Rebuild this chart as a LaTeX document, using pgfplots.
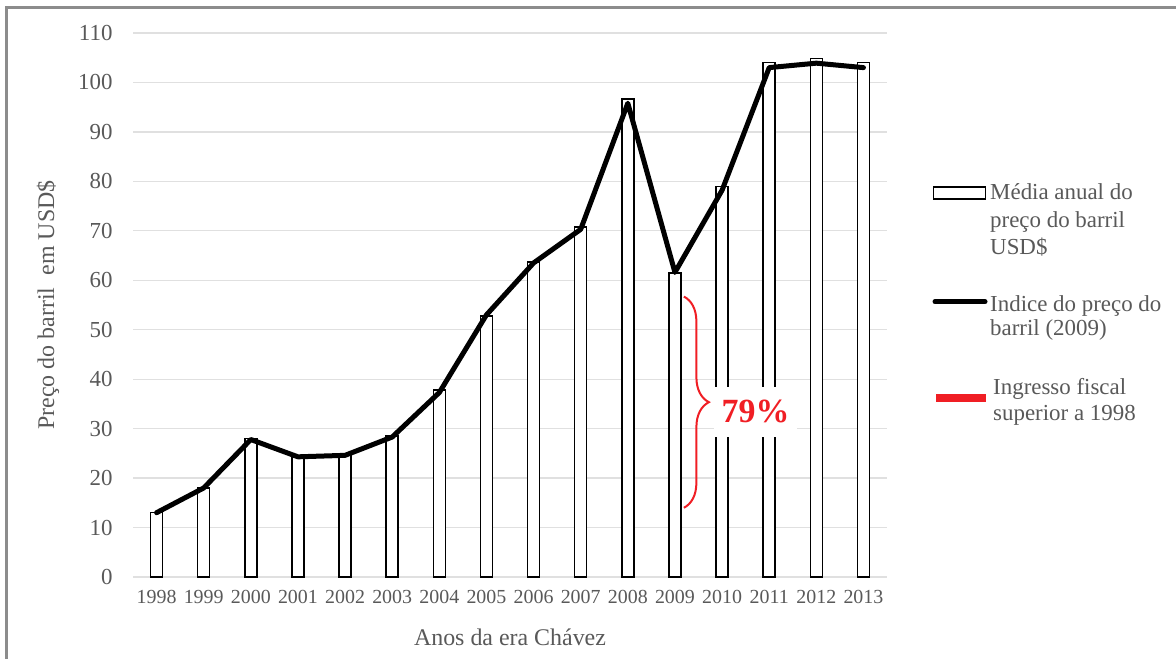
\documentclass[border=0pt]{standalone}
\usepackage{fontspec}
\setmainfont{Liberation Serif}
\usepackage{pgfplots}
\pgfplotsset{compat=1.18}
\usetikzlibrary{decorations.pathreplacing}
\definecolor{txtgray}{RGB}{89,89,89}
\definecolor{gridgray}{RGB}{224,224,224}
\definecolor{bordergray}{RGB}{140,140,140}
\definecolor{bracered}{RGB}{240,30,36}

\begin{document}
\begin{tikzpicture}
\useasboundingbox (0bp,0bp) rectangle (1176bp,659bp);
\fill[white] (0bp,0bp) rectangle (1176bp,659bp);
\draw[bordergray, line width=2.5bp] (6.5bp,0bp) -- (6.5bp,651.5bp) -- (1176bp,651.5bp);
\begin{axis}[
  at={(133bp,82bp)}, anchor=south west, scale only axis,
  width=754bp, height=544bp,
  xmin=-0.5, xmax=15.5, ymin=0, ymax=110,
  axis line style={draw=none},
  xtick={0,...,15},
  xticklabels={1998,1999,2000,2001,2002,2003,2004,2005,2006,2007,2008,2009,2010,2011,2012,2013},
  ytick={0,10,...,110},
  ymajorgrids, grid style={gridgray, line width=1.2bp},
  major tick length=0pt,
  /pgf/number format/assume math mode=true,
  ticklabel style={text=txtgray},
  yticklabel style={font=\fontsize{23}{27}\selectfont, xshift=-17bp},
  xticklabel style={font=\fontsize{20}{24}\selectfont, yshift=-10bp},
  xlabel={Anos da era Chávez},
  ylabel={Preço do barril\ \ em USD\$},
  label style={font=\fontsize{24}{28}\selectfont, text=txtgray},
  xlabel style={at={(axis description cs:0.5,-0.1103)}, anchor=center},
  ylabel style={at={(axis description cs:-0.1127,0.5)}, anchor=center},
  clip=false,
]
\addplot[ybar, bar width=12bp, draw=black, fill=white, line width=1.5bp] coordinates {
 (0,13.0) (1,18.0) (2,28.0) (3,24.4) (4,24.8) (5,28.5) (6,37.8) (7,52.8)
 (8,63.7) (9,70.8) (10,96.7) (11,61.5) (12,79.0) (13,104.0) (14,104.8) (15,104.0)};
\addplot[black, line width=5bp, line join=round, line cap=round, mark=none] coordinates {
 (0,13.0) (1,18.0) (2,27.8) (3,24.3) (4,24.6) (5,28.3) (6,37.3) (7,53.0)
 (8,63.5) (9,70.3) (10,95.8) (11,61.6) (12,78.2) (13,103.0) (14,103.9) (15,103.0)};
\draw[bracered, line width=2bp, decorate, decoration={brace, amplitude=25bp}]
  (axis cs:11.19,56.7) -- (axis cs:11.19,14.0);
\node[fill=white, inner sep=0pt, minimum width=83bp, minimum height=50bp,
  text=bracered, font=\fontsize{34}{40}\selectfont\bfseries] at (axis cs:12.71,33.4) {79\%};
\end{axis}
% legend
\draw[black, line width=1.5bp, fill=white] (933.5bp,460bp) rectangle (985.5bp,472bp);
\draw[black, line width=5bp, line cap=round] (935bp,357.3bp) -- (985bp,357.3bp);
\fill[bracered] (936bp,257bp) rectangle (986bp,265bp);
\begin{scope}[every node/.style={anchor=base west, inner sep=0pt, text=txtgray, font=\fontsize{23}{27}\selectfont}]
\node at (990bp,459bp) {Média anual do};
\node at (990bp,431bp) {preço do barril};
\node at (990bp,404bp) {USD\$};
\node at (990bp,347.3bp) {Indice do preço do};
\node at (990bp,323bp) {barril (2009)};
\node at (993bp,264bp) {Ingresso fiscal};
\node at (993bp,238bp) {superior a 1998};
\end{scope}
\end{tikzpicture}
\end{document}
